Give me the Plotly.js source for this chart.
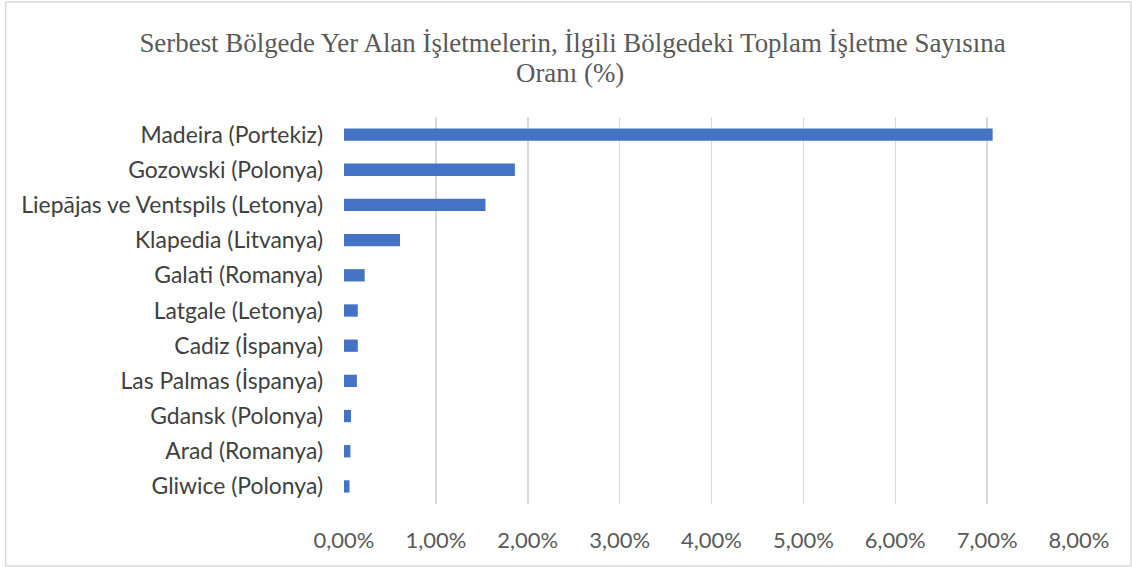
<!DOCTYPE html>
<html>
<head>
<meta charset="utf-8">
<script src="https://cdn.plot.ly/plotly-3.0.1.min.js"></script>
<style>html,body{margin:0;padding:0;background:#fff;}#chart{width:1132px;height:567px;}</style>
</head>
<body>
<div id="chart"></div>
<script>
const regions = [
  "Madeira (Portekiz)",
  "Gozowski (Polonya)",
  "Liepājas ve Ventspils (Letonya)",
  "Klapedia (Litvanya)",
  "Galati (Romanya)",
  "Latgale (Letonya)",
  "Cadiz (İspanya)",
  "Las Palmas (İspanya)",
  "Gdansk (Polonya)",
  "Arad (Romanya)",
  "Gliwice (Polonya)"
];
const shares = [0.0706, 0.0186, 0.0154, 0.0061, 0.00225, 0.0015, 0.0015, 0.0014, 0.00076, 0.0007, 0.0006];
const xTicks = [0, 0.01, 0.02, 0.03, 0.04, 0.05, 0.06, 0.07, 0.08];
const titleLine1 = "Serbest Bölgede Yer Alan İşletmelerin, İlgili Bölgedeki Toplam İşletme Sayısına";
const titleLine2 = "Oranı (%)";

const titleFont = {family: 'Liberation Serif, Times New Roman, serif', size: 26.9, color: '#595959'};

const trace = {
  type: 'bar',
  orientation: 'h',
  y: regions,
  x: shares,
  width: 0.35,
  marker: {color: '#4472C4'},
  hoverinfo: 'x+y'
};

const layout = {
  width: 1132,
  height: 567,
  separators: ',.',
  paper_bgcolor: '#ffffff',
  plot_bgcolor: '#ffffff',
  margin: {l: 344, r: 53, t: 117, b: 63},
  showlegend: false,
  title: {
    text: titleLine1,
    font: titleFont,
    xref: 'paper',
    x: 0.3109,
    xanchor: 'center',
    yref: 'container',
    y: 1 - 43 / 567,
    yanchor: 'middle'
  },
  annotations: [{
    text: titleLine2,
    font: titleFont,
    xref: 'paper', yref: 'paper',
    x: 0.3075, y: (504 - 73) / 387,
    xanchor: 'center', yanchor: 'middle',
    showarrow: false
  }],
  xaxis: {
    range: [0, 0.08],
    tickvals: xTicks,
    tickformat: '.2%',
    showgrid: true,
    gridcolor: '#d9d9d9',
    gridwidth: 1.5,
    zeroline: false,
    showline: false,
    ticks: '',
    ticklabelstandoff: 21,
    tickfont: {family: 'Lato, sans-serif', size: 22, color: '#595959'},
    fixedrange: true
  },
  yaxis: {
    type: 'category',
    autorange: 'reversed',
    showgrid: false,
    zeroline: false,
    showline: false,
    ticks: '',
    ticklabelstandoff: 20,
    tickfont: {family: 'Lato, sans-serif', size: 22.9, color: '#404040'},
    fixedrange: true
  },
  shapes: [{
    type: 'rect', xref: 'paper', yref: 'paper',
    x0: -0.4603, x1: 1.0707, y0: -0.1602, y1: 1.2972,
    line: {color: '#d9d9d9', width: 1.5}
  }]
};

Plotly.newPlot('chart', [trace], layout, {displayModeBar: false, staticPlot: true});
</script>
</body>
</html>
